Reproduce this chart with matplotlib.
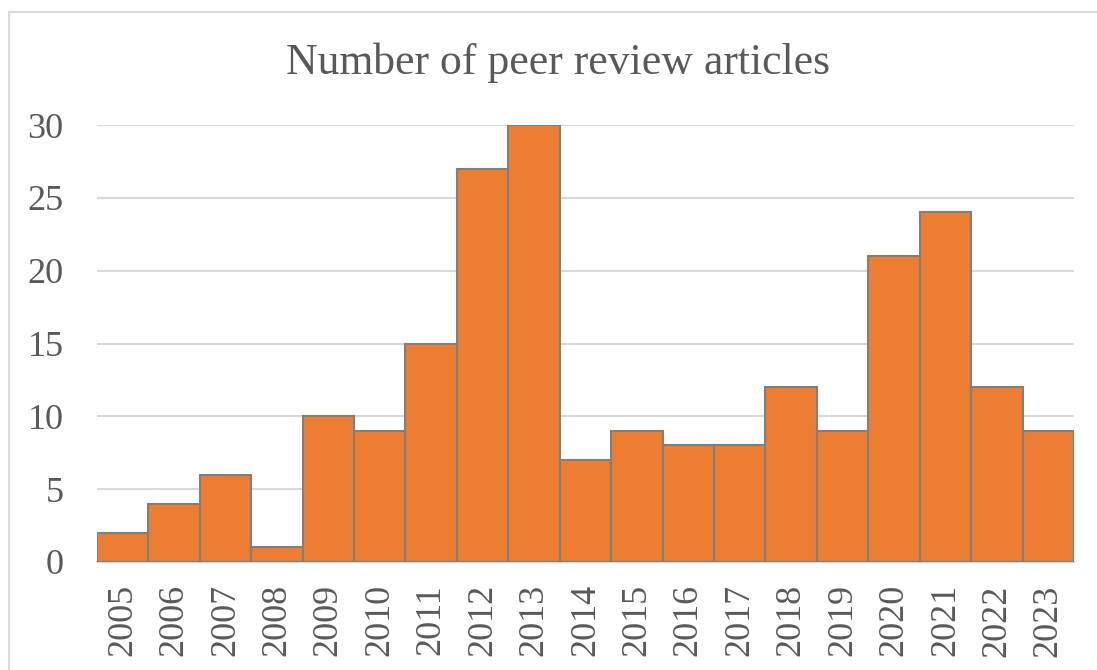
#!/usr/bin/env python3
"""
Bar chart: number of peer review articles per year.
"""

import matplotlib
matplotlib.use('Agg')
import matplotlib.pyplot as plt
from matplotlib.patches import Rectangle

years = ['2005', '2006', '2007', '2008', '2009', '2010', '2011', '2012', '2013', '2014',
         '2015', '2016', '2017', '2018', '2019', '2020', '2021', '2022', '2023']
counts = [2, 4, 6, 1, 10, 9, 15, 27, 30, 7, 9, 8, 8, 12, 9, 21, 24, 12, 9]
y_ticks = [0, 5, 10, 15, 20, 25, 30]

plt.rcParams['font.family'] = ['Liberation Serif', 'DejaVu Serif']
text_color = '#595959'
grid_color = '#D9D9D9'


def main():
    fig = plt.figure(figsize=(10.97, 6.70), dpi=100)
    ax = fig.add_axes([0.0884, 0.1612, 0.979 - 0.0884, 0.8134 - 0.1612])

    x = range(len(years))
    ax.bar(x, counts, width=1.0, color='#ED7D31', edgecolor='#7F7F7F',
           linewidth=1.5, zorder=3)

    ax.set_xlim(-0.5, len(years) - 0.5)
    ax.set_ylim(0, 30)
    ax.set_yticks(y_ticks)
    ax.set_yticklabels([str(v) for v in y_ticks], fontsize=26, color=text_color)
    ax.set_xticks(list(x))
    ax.set_xticklabels(years, rotation=90, fontsize=26, color=text_color)
    ax.tick_params(axis='both', length=0)
    ax.tick_params(axis='y', pad=24)
    ax.tick_params(axis='x', pad=16)

    ax.yaxis.grid(True, color=grid_color, linewidth=1.5, zorder=0)
    ax.set_axisbelow(True)
    for side in ['top', 'right', 'left']:
        ax.spines[side].set_visible(False)
    ax.spines['bottom'].set_color(grid_color)
    ax.spines['bottom'].set_linewidth(1.5)

    fig.text(0.509, 0.907, 'Number of peer review articles', ha='center', va='center',
             fontsize=31.5, color=text_color)

    # chart area border (cut off on right and bottom like the reference)
    border = Rectangle((9 / 1097, -0.1), 1.2, 0.982 + 0.1, transform=fig.transFigure,
                       fill=False, edgecolor=grid_color, linewidth=1.5)
    fig.patches.append(border)

    fig.savefig('out.png', dpi=100)
    plt.close(fig)


if __name__ == '__main__':
    main()
